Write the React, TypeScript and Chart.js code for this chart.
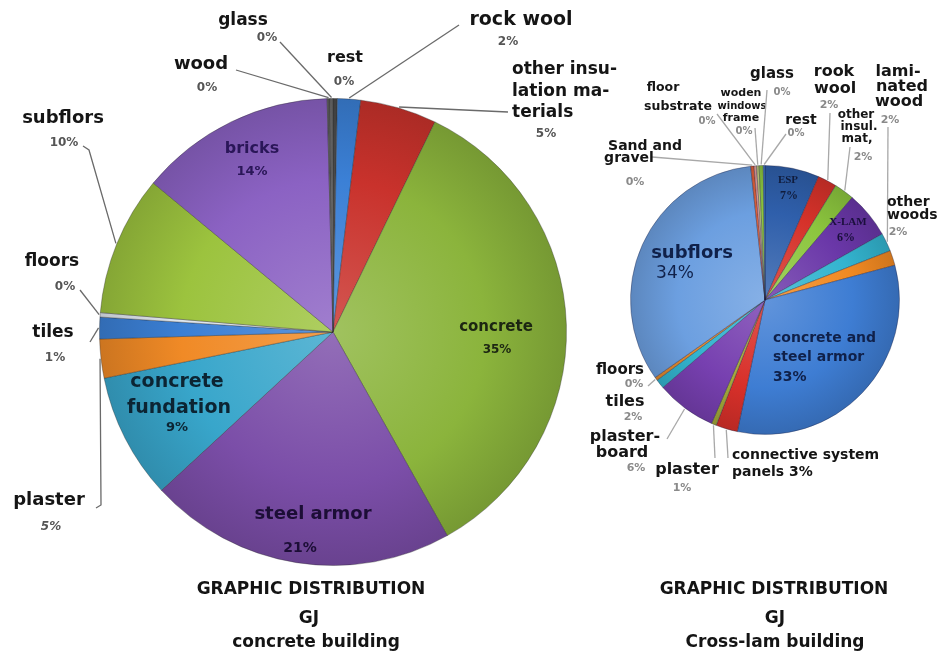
import React, { useEffect, useRef } from 'react';
import { Chart, registerables } from 'chart.js';

Chart.register(...registerables);

const W = 943;
const H = 651;

// ---------- Left pie: concrete building (clockwise from 12 o'clock) ----------
const leftCategories = ['rest', 'rock wool', 'other insulation materials', 'concrete', 'steel armor', 'concrete fundation', 'plaster', 'tiles', 'floors', 'subflors', 'bricks', 'wood', 'glass'];
const leftValues = [0.3, 1.6, 5.3, 34.7, 21.3, 8.7, 2.7, 1.5, 0.3, 9.7, 13.6, 0.2, 0.2];
const leftPercentLabels = ['0%', '2%', '5%', '35%', '21%', '9%', '5%', '1%', '0%', '10%', '14%', '0%', '0%'];
const leftColors = ['#4a4a4a', '#3b80d6', '#c9322c', '#8bb43c', '#7b4ea8', '#38a6cb', '#f08a26', '#3b7fd4', '#dfe6ee', '#9cc33e', '#8b62c3', '#5a5a5a', '#6a6a6a'];
const leftTitles = ['GRAPHIC DISTRIBUTION', 'GJ', 'concrete building'];

// ---------- Right pie: Cross-lam building (clockwise from 12 o'clock) ----------
const rightCategories = ['ESP', 'rook wool', 'other insul. mat,', 'X-LAM', 'laminated wood', 'other woods', 'concrete and steel armor', 'connective system panels', 'plaster', 'plasterboard', 'tiles', 'floors', 'subflors', 'Sand and gravel', 'floor substrate', 'woden windows frame', 'glass', 'rest'];
const rightValues = [6.5, 2.3, 2.4, 5.6, 2.2, 1.8, 32.4, 2.6, 0.6, 7.2, 1.1, 0.4, 33.0, 0.4, 0.3, 0.3, 0.5, 0.2];
const rightPercentLabels = ['7%', '2%', '2%', '6%', '2%', '2%', '33%', '3%', '1%', '6%', '2%', '0%', '34%', '0%', '0%', '0%', '0%', '0%'];
const rightColors = ['#2f5fab', '#d6322a', '#8cc63e', '#6a37a8', '#33b4cf', '#f28a22', '#3e7dd3', '#d8302a', '#a3a83a', '#7740b0', '#33b4cf', '#e08a30', '#6c9fe0', '#e0603a', '#e8a0a0', '#c8d080', '#8cc63e', '#3e7dd3'];
const rightTitles = ['GRAPHIC DISTRIBUTION', 'GJ', 'Cross-lam building'];

// ---------- label layout ----------
type Txt = { t: string; x: number; y: number; s: number; c?: string; a?: CanvasTextAlign; f?: string };
type Lbl = { idx: number; lines: Txt[]; pct?: Txt; leader?: number[][] };

const SANS = '"DejaVu Sans", sans-serif';
const SERIF = '"Liberation Serif", "DejaVu Serif", serif';
const DARK = '#151515';

const T = (t: string, x: number, y: number, s: number, extra: Partial<Txt> = {}): Txt => ({ t, x, y, s, ...extra });

const leftLayout: Lbl[] = [
  { idx: 0, lines: [T('rest', 345, 58, 16)], pct: T('', 344, 82, 12) },
  { idx: 1, lines: [T('rock wool', 521, 20, 19)], pct: T('', 508, 42, 12), leader: [[459, 25]] },
  { idx: 2, lines: [T('other insu-', 512, 70, 17, { a: 'left' }), T('lation ma-', 512, 92, 17, { a: 'left' }), T('terials', 512, 113, 17, { a: 'left' })], pct: T('', 546, 134, 12), leader: [[508, 112]] },
  { idx: 3, lines: [T('concrete', 496, 327, 15, { c: '#1c2612' })], pct: T('', 497, 350, 12, { c: '#1c2612' }) },
  { idx: 4, lines: [T('steel armor', 313, 514, 18, { c: '#1c0e36' })], pct: T('', 300, 548, 14, { c: '#1c0e36' }) },
  { idx: 5, lines: [T('concrete', 177, 382, 19, { c: '#0c2433' }), T('fundation', 179, 408, 19, { c: '#0c2433' })], pct: T('', 177, 428, 13, { c: '#0c2433' }) },
  { idx: 6, lines: [T('plaster', 49, 500, 18)], pct: T('', 51, 527, 12, { f: 'italic bold' }), leader: [[96, 508], [101, 505]] },
  { idx: 7, lines: [T('tiles', 53, 333, 17)], pct: T('', 55, 358, 12), leader: [[90, 342]] },
  { idx: 8, lines: [T('floors', 52, 262, 17)], pct: T('', 65, 287, 12), leader: [[80, 290]] },
  { idx: 9, lines: [T('subflors', 63, 118, 18)], pct: T('', 64, 143, 12), leader: [[83, 146], [89, 150]] },
  { idx: 10, lines: [T('bricks', 252, 149, 16, { c: '#2a1658' })], pct: T('', 252, 172, 13, { c: '#2a1658' }) },
  { idx: 11, lines: [T('wood', 201, 64, 18)], pct: T('', 207, 88, 12), leader: [[236, 70]] },
  { idx: 12, lines: [T('glass', 243, 21, 17)], pct: T('', 267, 38, 12), leader: [[280, 42]] },
];

const NAVY = '#10214a';
const rightLayout: Lbl[] = [
  { idx: 0, lines: [T('ESP', 788, 180, 11, { c: '#101c3c' })], pct: T('', 789, 196, 12, { c: '#101c3c' }) },
  { idx: 1, lines: [T('rook', 834, 72, 16), T('wool', 835, 89, 16)], pct: T('', 829, 105, 11), leader: [[830, 113]] },
  { idx: 2, lines: [T('other', 856, 115, 12), T('insul.', 859, 127, 12), T('mat,', 857, 139, 12)], pct: T('', 863, 157, 11), leader: [[850, 147]] },
  { idx: 3, lines: [T('X-LAM', 848, 222, 11, { c: '#1a0f3c' })], pct: T('', 846, 238, 12, { c: '#1a0f3c' }) },
  { idx: 4, lines: [T('lami-', 898, 72, 16), T('nated', 902, 87, 16), T('wood', 899, 102, 16)], pct: T('', 890, 120, 11), leader: [[888, 127]] },
  { idx: 5, lines: [T('other', 887, 202, 14, { a: 'left' }), T('woods', 887, 215, 14, { a: 'left' })], pct: T('', 898, 232, 11) },
  { idx: 6, lines: [T('concrete and', 773, 338, 14, { a: 'left', c: NAVY }), T('steel armor', 773, 357, 14, { a: 'left', c: NAVY })], pct: T('', 773, 377, 14, { a: 'left', c: NAVY }) },
  { idx: 7, lines: [T('connective system', 732, 455, 14, { a: 'left' }), T('panels {p}', 732, 472, 14, { a: 'left' })], leader: [[728, 458]] },
  { idx: 8, lines: [T('plaster', 687, 470, 16)], pct: T('', 682, 488, 11), leader: [[715, 458]] },
  { idx: 9, lines: [T('plaster-', 625, 437, 16), T('board', 622, 453, 16)], pct: T('', 636, 468, 11), leader: [[667, 439]] },
  { idx: 10, lines: [T('tiles', 625, 402, 16)], pct: T('', 633, 417, 11) },
  { idx: 11, lines: [T('floors', 620, 370, 15)], pct: T('', 634, 384, 11), leader: [[648, 386]] },
  { idx: 12, lines: [T('subflors', 692, 253, 18, { c: NAVY })], pct: T('', 675, 274, 17, { c: NAVY, f: 'normal' }) },
  { idx: 13, lines: [T('Sand and', 645, 146, 14), T('gravel', 629, 158, 14)], pct: T('', 635, 182, 11), leader: [[652, 157]] },
  { idx: 14, lines: [T('floor', 663, 88, 12.5), T('substrate', 678, 107, 12.5)], pct: T('', 707, 121, 10), leader: [[717, 114]] },
  { idx: 15, lines: [T('woden', 741, 93, 11), T('windows', 742, 106, 10), T('frame', 741, 118, 11)], pct: T('', 744, 131, 10), leader: [[755, 128]] },
  { idx: 16, lines: [T('glass', 772, 74, 15)], pct: T('', 782, 92, 10), leader: [[767, 90]] },
  { idx: 17, lines: [T('rest', 801, 120, 14)], pct: T('', 796, 133, 10), leader: [[786, 134]] },
];

function shade(hex: string, amt: number): string {
  const n = parseInt(hex.slice(1), 16);
  const target = amt < 0 ? 0 : 255;
  const p = Math.abs(amt);
  const ch = [(n >> 16) & 255, (n >> 8) & 255, n & 255].map((v) => Math.round(v + (target - v) * p));
  return `rgb(${ch[0]},${ch[1]},${ch[2]})`;
}

function radialFill(colors: string[]) {
  return (c: any) => {
    const base = colors[c.dataIndex];
    const area = c.chart.chartArea;
    if (!area) return base;
    const cx = (area.left + area.right) / 2;
    const cy = (area.top + area.bottom) / 2;
    const r = Math.min(area.width, area.height) / 2;
    const g = c.chart.ctx.createRadialGradient(cx, cy, 0, cx, cy, r);
    g.addColorStop(0, shade(base, 0.18));
    g.addColorStop(0.65, base);
    g.addColorStop(1, shade(base, -0.15));
    return g;
  };
}

function drawTxt(ctx: CanvasRenderingContext2D, t: Txt, text: string, defColor: string, family: string, baseline: CanvasTextBaseline = 'middle') {
  ctx.font = `${t.f ?? 'bold'} ${t.s}px ${family}`;
  ctx.fillStyle = t.c ?? defColor;
  ctx.textAlign = t.a ?? 'center';
  ctx.textBaseline = baseline;
  ctx.fillText(text, t.x, t.y);
}

function makeLabelPlugin(layout: Lbl[], pcts: string[], titles: string[], titleX: number[], leaderColor: string, pctColor: string, serifIdx: number[]) {
  return {
    id: 'pieLabels',
    afterDraw(chart: any) {
      const ctx: CanvasRenderingContext2D = chart.ctx;
      const arcs = chart.getDatasetMeta(0).data;
      ctx.save();
      for (const l of layout) {
        const arc: any = arcs[l.idx];
        if (l.leader && arc) {
          const mid = (arc.startAngle + arc.endAngle) / 2;
          const ex = arc.x + Math.cos(mid) * (arc.outerRadius + 1);
          const ey = arc.y + Math.sin(mid) * (arc.outerRadius + 1);
          ctx.beginPath();
          ctx.moveTo(l.leader[0][0], l.leader[0][1]);
          for (let k = 1; k < l.leader.length; k++) ctx.lineTo(l.leader[k][0], l.leader[k][1]);
          ctx.lineTo(ex, ey);
          ctx.strokeStyle = leaderColor;
          ctx.lineWidth = 1.3;
          ctx.stroke();
        }
        const fam = serifIdx.includes(l.idx) ? SERIF : SANS;
        for (const line of l.lines) {
          drawTxt(ctx, line, line.t.replace('{p}', pcts[l.idx]), DARK, fam);
        }
        if (l.pct) drawTxt(ctx, l.pct, pcts[l.idx], fam === SERIF ? DARK : pctColor, fam);
      }
      const ys = [594, 623, 647];
      titles.forEach((t, i) => {
        drawTxt(ctx, T(t, titleX[i], ys[i], 17), t, '#141414', SANS, 'alphabetic');
      });
      ctx.restore();
    },
  };
}

function PieCanvas(props: {
  labels: string[]; values: number[]; colors: string[]; padding: { left: number; top: number; right: number; bottom: number }; plugin: any; border: string;
}) {
  const ref = useRef<HTMLCanvasElement | null>(null);
  useEffect(() => {
    if (!ref.current) return;
    const chart = new Chart(ref.current, {
      type: 'pie',
      data: {
        labels: props.labels,
        datasets: [{ data: props.values, backgroundColor: radialFill(props.colors) as any, borderColor: props.border, borderWidth: 1 }],
      },
      options: {
        responsive: false,
        animation: false,
        events: [],
        layout: { padding: props.padding },
        plugins: { legend: { display: false }, tooltip: { enabled: false } },
      },
      plugins: [props.plugin],
    });
    return () => chart.destroy();
  }, []);
  return <canvas ref={ref} width={W} height={H} style={{ position: 'absolute', left: 0, top: 0 }} />;
}

export default function App() {
  const leftPlugin = makeLabelPlugin(leftLayout, leftPercentLabels, leftTitles, [311, 309, 316], '#6a6a6a', '#555555', []);
  const rightPlugin = makeLabelPlugin(rightLayout, rightPercentLabels, rightTitles, [774, 775, 775], '#a8a8a8', '#8a8a8a', [0, 3]);
  return (
    <div style={{ position: 'fixed', left: 0, top: 0, width: W, height: H, background: '#ffffff', overflow: 'hidden' }}>
      <PieCanvas
        labels={leftCategories}
        values={leftValues}
        colors={leftColors}
        border="rgba(40,40,40,0.35)"
        padding={{ left: 99, top: 98, right: W - 567, bottom: H - 566 }}
        plugin={leftPlugin}
      />
      <PieCanvas
        labels={rightCategories}
        values={rightValues}
        colors={rightColors}
        border="rgba(30,30,60,0.35)"
        padding={{ left: 630, top: 165, right: W - 900, bottom: H - 435 }}
        plugin={rightPlugin}
      />
    </div>
  );
}
